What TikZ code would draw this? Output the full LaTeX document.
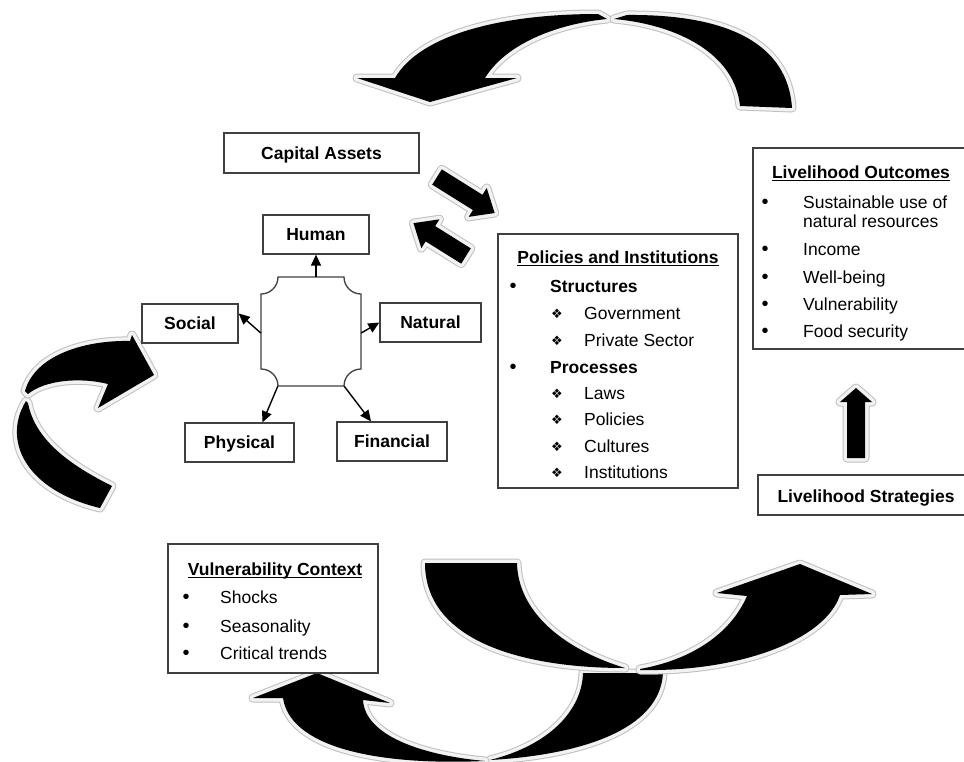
\documentclass[tikz,border=0pt]{standalone}
\usepackage{fontspec}
\setmainfont{Liberation Sans}
\newfontfamily\symfont{DejaVu Sans}
\usetikzlibrary{calc,arrows.meta}
\tikzset{
  bigarrow/.style={fill=black, line join=round,
     preaction={draw=black!25, line width=9pt, line join=round},
     preaction={draw=black!5, line width=7pt, line join=round}},
  rbox/.style={draw=black!75, line width=1.3pt, fill=white, rectangle, inner sep=0pt,
     font=\fontsize{17.5}{20}\selectfont\bfseries, text height=12.5pt, text depth=0pt},
  txt/.style={inner sep=0pt, anchor=base west, font=\fontsize{17.5}{20}\selectfont},
  btxt/.style={inner sep=0pt, anchor=base west, font=\fontsize{17.5}{20}\selectfont\bfseries},
  ttl/.style={inner sep=0pt, anchor=base, font=\fontsize{17.5}{20}\selectfont\bfseries},
  bul/.style={inner sep=0pt, anchor=base, font=\fontsize{20}{20}\selectfont},
  dbul/.style={inner sep=0pt, anchor=base, font=\fontsize{13}{13}\symfont},
  link/.style={draw=black, line width=1.4pt, -{Triangle[length=11pt,width=10pt]}},
  uline/.style={draw=black, line width=1pt},
}
\begin{document}
\begin{tikzpicture}[x=1pt,y=-1pt]
\useasboundingbox (0,0) rectangle (964,761);
\fill[white] (0,0) rectangle (964,761);

% ---------- big curved arrows ----------
% top arrow
\fill[bigarrow] (598,14) .. controls (500,14) and (420,35) .. (395,78) -- (357,78) -- (430,102) -- (517,78) -- (485,78) .. controls (505,45) and (555,24) .. (607,19) -- cycle;
\fill[bigarrow] (614,19) -- (627,15) .. controls (730,14) and (788,45) .. (792,108) -- (740,106) .. controls (735,55) and (680,25) .. (614,19) -- cycle;

% left arrow
\fill[bigarrow] (26,401) .. controls (2,440) and (25,490) .. (100,508) -- (112,486) .. controls (70,465) and (35,440) .. (28,403) -- cycle;
\fill[bigarrow] (25,391) .. controls (35,355) and (85,340) .. (130,341) -- (132,335) -- (154,375) -- (98,408) -- (108,384) .. controls (80,377) and (45,380) .. (28,394) -- cycle;

% bottom-left arrow (to vulnerability context)
\fill[bigarrow] (583,673) -- (663,673) .. controls (660,730) and (580,755) .. (490,760) .. controls (550,745) and (582,710) .. (583,673) -- cycle;
\fill[bigarrow] (363,700) -- (390,703) -- (317,673) -- (253,698) -- (283,698) .. controls (290,745) and (370,766) .. (485,761) .. controls (420,755) and (365,735) .. (363,700) -- cycle;

% bottom-middle arrow (to livelihood strategies)
\fill[bigarrow] (425,563) -- (517,563) .. controls (518,610) and (560,648) .. (625,668) .. controls (520,668) and (425,640) .. (425,563) -- cycle;
\fill[bigarrow] (640,670) .. controls (740,672) and (825,640) .. (840,595) -- (872,594) -- (800,564) -- (717,593) -- (747,596) .. controls (730,635) and (690,660) .. (640,669) -- cycle;

% capital assets <-> policies block arrows
\begin{scope}[shift={(437,177)}, rotate=-32]
\fill[bigarrow] (0,-9) -- (48,-9) -- (48,-17) -- (68,0) -- (48,17) -- (48,9) -- (0,9) -- cycle;
\end{scope}
\begin{scope}[shift={(466,256)}, rotate=148]
\fill[bigarrow] (0,-9) -- (42,-9) -- (42,-17) -- (62,0) -- (42,17) -- (42,9) -- (0,9) -- cycle;
\end{scope}

% strategies -> outcomes arrow
\fill[bigarrow] (847,458) -- (847,402) -- (840,402) -- (856,388) -- (872,402) -- (865,402) -- (865,458) -- cycle;

% ---------- capital assets ----------
\node[rbox, minimum width=195pt, minimum height=40pt] (cap) at (321.5,153) {Capital Assets};
\node[rbox, minimum width=106pt, minimum height=39pt] (human) at (316,234.5) {Human};
\node[rbox, minimum width=96pt, minimum height=39pt] (social) at (190,323.5) {Social};
\node[rbox, minimum width=101pt, minimum height=39pt] (natural) at (430.5,322.5) {Natural};
\node[rbox, minimum width=109pt, minimum height=39pt] (physical) at (239.5,442.5) {Physical};
\node[rbox, minimum width=110pt, minimum height=39pt] (financial) at (392,441.5) {Financial};

\node[minimum width=100pt, minimum height=109pt, inner sep=0pt] (core) at (311,331.5) {};
\draw[draw=black!75, line width=1.3pt] (278,277) -- (344,277)
  .. controls (344,286.4) and (351.6,294) .. (361,294) -- (361,369)
  .. controls (351.6,369) and (344,376.6) .. (344,386) -- (278,386)
  .. controls (278,376.6) and (270.4,369) .. (261,369) -- (261,294)
  .. controls (270.4,294) and (278,286.4) .. (278,277) -- cycle;

\draw[link] (core.north -| human.south) -- (human.south);
\draw[link] ($(core.west)+(0,1.5)$) -- ($(social.east)+(0,-10)$);
\draw[link] ($(core.east)+(0,1.5)$) -- (natural.west);
\draw[link] ($(core.south west)+(17,0)$) -- ($(physical.north)+(23,0)$);
\draw[link] ($(core.south east)+(-17,0)$) -- ($(financial.north)+(-21,0)$);

% ---------- policies and institutions ----------
\node[rbox, minimum width=240pt, minimum height=254pt] (pol) at (618,361) {};
\node[ttl] (pt) at (618,263) {Policies and Institutions};
\draw[uline] ($(pt.base west)+(0,2.5)$) -- ($(pt.base east)+(0,2.5)$);
\node[bul] (pb1) at (513,292) {•};
\node[btxt] (ps) at (550,292) {Structures};
\node[dbul] (pd1) at (557,318) {❖};
\node[txt] (pg) at (584,319) {Government};
\node[dbul] (pd2) at (557,345) {❖};
\node[txt] (pp) at (584,346) {Private Sector};
\node[bul] (pb2) at (513,373) {•};
\node[btxt] (pr) at (550,373) {Processes};
\node[dbul] (pd3) at (557,398) {❖};
\node[txt] (pl) at (584,399) {Laws};
\node[dbul] (pd4) at (557,424) {❖};
\node[txt] (ppo) at (584,425) {Policies};
\node[dbul] (pd5) at (557,451) {❖};
\node[txt] (pc) at (584,452) {Cultures};
\node[dbul] (pd6) at (557,477) {❖};
\node[txt] (pi) at (584,478) {Institutions};

% ---------- livelihood outcomes ----------
\node[rbox, minimum width=213pt, minimum height=201pt] (out) at (859.5,248.5) {};
\node[ttl] (ot) at (861,178) {Livelihood Outcomes};
\draw[uline] ($(ot.base west)+(0,2.5)$) -- ($(ot.base east)+(0,2.5)$);
\node[bul] (ob1) at (765,208) {•};
\node[txt] (o1) at (803,208) {Sustainable use of};
\node[txt] (o1b) at (803,227) {natural resources};
\node[bul] (ob2) at (765,255) {•};
\node[txt] (o2) at (803,255) {Income};
\node[bul] (ob3) at (765,283) {•};
\node[txt] (o3) at (803,283) {Well-being};
\node[bul] (ob4) at (765,310) {•};
\node[txt] (o4) at (803,310) {Vulnerability};
\node[bul] (ob5) at (765,337) {•};
\node[txt] (o5) at (803,337) {Food security};

% ---------- livelihood strategies ----------
\node[rbox, minimum width=208pt, minimum height=40pt] (strat) at (862,495) {};
\node[ttl] (st) at (866,502) {Livelihood Strategies};

% ---------- vulnerability context ----------
\node[rbox, minimum width=210pt, minimum height=129pt] (vul) at (273,608.5) {};
\node[ttl] (vt) at (275,575) {Vulnerability Context};
\draw[uline] ($(vt.base west)+(0,2.5)$) -- ($(vt.base east)+(0,2.5)$);
\node[bul] (vb1) at (186,603) {•};
\node[txt] (v1) at (220,603) {Shocks};
\node[bul] (vb2) at (186,632) {•};
\node[txt] (v2) at (220,632) {Seasonality};
\node[bul] (vb3) at (186,659) {•};
\node[txt] (v3) at (220,659) {Critical trends};
\end{tikzpicture}
\end{document}
